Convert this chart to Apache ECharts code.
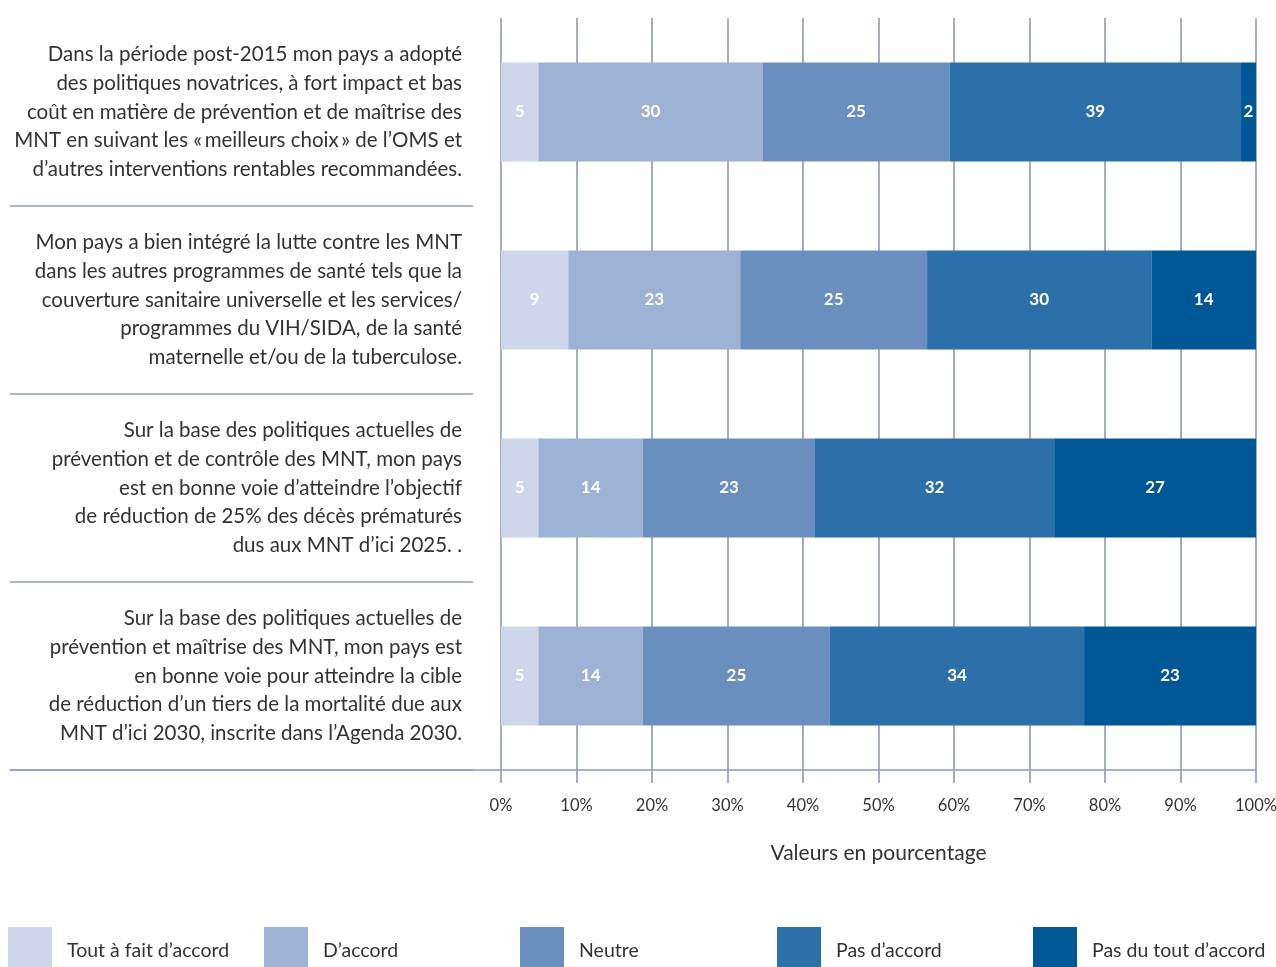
<!DOCTYPE html>
<html>
<head>
<meta charset="utf-8">
<style>
  html, body { margin: 0; padding: 0; background: #ffffff; }
  #chart { width: 1276px; height: 967px; }
</style>
<script src="https://cdn.jsdelivr.net/npm/echarts@6/dist/echarts.min.js"></script>
</head>
<body>
<div id="chart"></div>
<script>
// Survey statements (one bar each)
const statements = [
  "Dans la période post-2015 mon pays a adopté\ndes politiques novatrices, à fort impact et bas\ncoût en matière de prévention et de maîtrise des\nMNT en suivant les «\u2009meilleurs choix\u2009» de l’OMS et\nd’autres interventions rentables recommandées.",
  "Mon pays a bien intégré la lutte contre les MNT\ndans les autres programmes de santé tels que la\ncouverture sanitaire universelle et les services/\nprogrammes du VIH/SIDA, de la santé\nmaternelle et/ou de la tuberculose.",
  "Sur la base des politiques actuelles de\nprévention et de contrôle des MNT, mon pays\nest en bonne voie d’atteindre l’objectif\nde réduction de 25% des décès prématurés\ndus aux MNT d’ici 2025. .",
  "Sur la base des politiques actuelles de\nprévention et maîtrise des MNT, mon pays est\nen bonne voie pour atteindre la cible\nde réduction d’un tiers de la mortalité due aux\nMNT d’ici 2030, inscrite dans l’Agenda 2030."
];

// Answer categories
const answers = ["Tout à fait d’accord", "D’accord", "Neutre", "Pas d’accord", "Pas du tout d’accord"];

// Percentages per answer (one value per statement, in statement order)
const toutAFait   = [5, 9, 5, 5];
const dAccord     = [30, 23, 14, 14];
const neutre      = [25, 25, 23, 25];
const pasDAccord  = [39, 30, 32, 34];
const pasDuTout   = [2, 14, 27, 23];

const xTicks = [0, 10, 20, 30, 40, 50, 60, 70, 80, 90, 100];

const colors = ["#cdd6ea", "#9db1d4", "#6a8ebe", "#2b70a9", "#005796"];
const seriesValues = [toutAFait, dAccord, neutre, pasDAccord, pasDuTout];

// Each row is shown as a share of its own total so the bars fill 0–100%
const rowTotals = statements.map((_, i) => seriesValues.reduce((s, arr) => s + arr[i], 0));

const font = "Lato, 'Open Sans', sans-serif";
const gridColor = "#a5adc0";
const ruleColor = "#8f9bb7";

const chart = echarts.init(document.getElementById("chart"), null, { renderer: "canvas" });

const barSeries = answers.map((name, k) => ({
  name: name,
  type: "bar",
  stack: "total",
  xAxisIndex: 0,
  yAxisIndex: 0,
  barWidth: 99,
  itemStyle: { color: colors[k] },
  label: {
    show: true,
    position: "inside",
    color: "#ffffff",
    fontFamily: font,
    fontWeight: "bold",
    fontSize: 17,
    formatter: p => String(seriesValues[k][p.dataIndex])
  },
  emphasis: { disabled: true },
  data: seriesValues[k].map((v, i) => v / rowTotals[i] * 100)
}));

// Separator rules under each statement text
const separatorSeries = {
  type: "custom",
  xAxisIndex: 1,
  yAxisIndex: 1,
  silent: true,
  data: statements.map((s, i) => [0, i]),
  renderItem: (params, api) => {
    const c = api.coord([0, api.value(1)]);
    const band = api.size([0, 1])[1];
    const y = c[1] + band / 2;
    const cs = params.coordSys;
    return {
      type: "line",
      shape: { x1: cs.x, y1: y, x2: cs.x + cs.width - 28, y2: y },
      style: { stroke: ruleColor, lineWidth: 1.5 }
    };
  }
};

// One legend block per answer, evenly spaced along the bottom
const legendSlots = [8, 264, 520, 777, 1033];
const legends = answers.map((name, k) => ({
  left: legendSlots[k],
  top: 927,
  padding: 0,
  itemWidth: 44,
  itemHeight: 40,
  icon: "rect",
  selectedMode: false,
  data: [name],
  formatter: n => "{t|" + n + "}",
  textStyle: {
    rich: {
      t: {
        fontFamily: font,
        fontSize: 19.5,
        color: "#333333",
        padding: [8, 0, 0, 10]
      }
    }
  }
}));

chart.setOption({
  animation: false,
  backgroundColor: "#ffffff",
  textStyle: { fontFamily: font },
  grid: [
    { left: 501, right: 20, top: 18, bottom: 197, containLabel: false, outerBoundsMode: "none" },
    { left: 10, right: 775, top: 18, bottom: 197, containLabel: false, outerBoundsMode: "none" }
  ],
  legend: legends,
  xAxis: [
    {
      gridIndex: 0,
      type: "value",
      min: 0,
      max: 100,
      interval: 10,
      axisLine: { show: true, lineStyle: { color: ruleColor, width: 1.5 } },
      axisTick: { show: true, length: 13, lineStyle: { color: gridColor, width: 2 } },
      splitLine: { show: true, lineStyle: { color: gridColor, width: 2 } },
      axisLabel: {
        formatter: "{value}%",
        fontFamily: font,
        fontSize: 16.5,
        color: "#333333",
        margin: 27
      },
      name: "Valeurs en pourcentage",
      nameLocation: "middle",
      nameGap: 73,
      nameTextStyle: { fontFamily: font, fontSize: 21, color: "#333333" }
    },
    {
      gridIndex: 1,
      type: "value",
      min: 0,
      max: 1,
      axisLine: { show: true, lineStyle: { color: ruleColor, width: 1.5 } },
      axisTick: { show: false },
      axisLabel: { show: false },
      splitLine: { show: false }
    }
  ],
  yAxis: [
    {
      gridIndex: 0,
      type: "category",
      inverse: true,
      data: statements,
      axisLine: { show: false },
      axisTick: { show: false },
      axisLabel: {
        margin: 39,
        fontFamily: font,
        fontSize: 20.5,
        lineHeight: 28.6,
        color: "#333333",
        align: "right"
      }
    },
    {
      gridIndex: 1,
      type: "category",
      inverse: true,
      data: statements,
      show: false
    }
  ],
  series: barSeries.concat([separatorSeries])
});
</script>
</body>
</html>
